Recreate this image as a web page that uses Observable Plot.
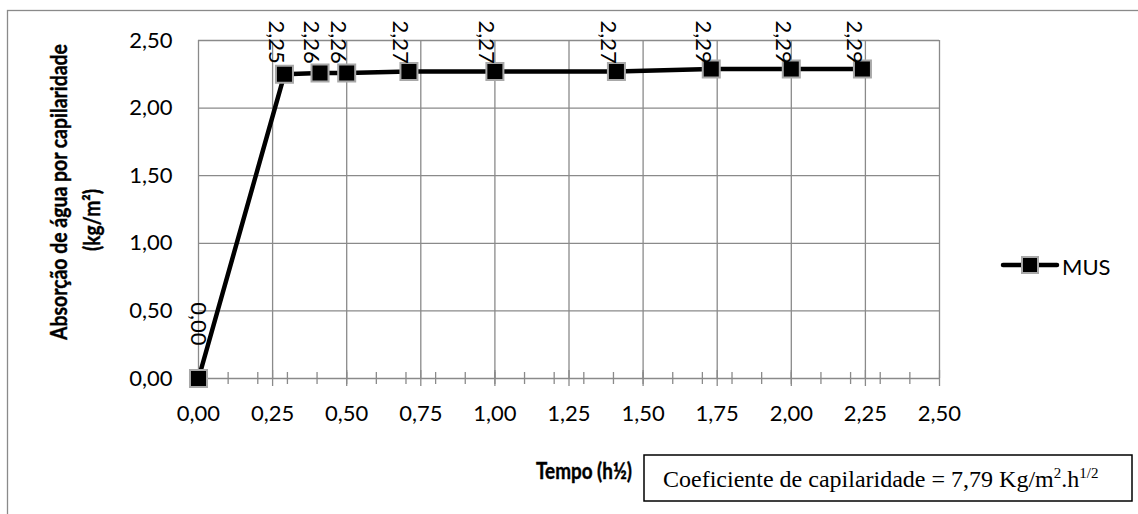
<!DOCTYPE html>
<html>
<head>
<meta charset="utf-8">
<script src="https://cdn.jsdelivr.net/npm/d3@7"></script>
<script src="https://cdn.jsdelivr.net/npm/@observablehq/plot@0.6"></script>
<style>
  body { margin: 0; background: #fff; }
  #wrap { position: relative; width: 1138px; height: 514px; overflow: hidden; background: #fff; }
  #wrap > svg { position: absolute; left: 0; top: 0; }
  #overlay { pointer-events: none; }
</style>
</head>
<body>
<div id="wrap"></div>
<script>
// Capillary water absorption of the MUS sample versus square root of time
const serie = "MUS";
const tempo = [0.00, 0.29, 0.41, 0.50, 0.71, 1.00, 1.41, 1.73, 2.00, 2.24];      // h½
const absorcao = [0.00, 2.25, 2.26, 2.26, 2.27, 2.27, 2.27, 2.29, 2.29, 2.29];   // kg/m²
const xTicks = [0, 0.25, 0.5, 0.75, 1, 1.25, 1.5, 1.75, 2, 2.25, 2.5];
const xMinor = [0.1, 0.2, 0.3, 0.4, 0.5, 0.6, 0.7, 0.8, 0.9, 1.0, 1.1, 1.2, 1.3, 1.4, 1.5,
                1.6, 1.7, 1.8, 1.9, 2.0, 2.1, 2.2, 2.3, 2.4];
const yTicks = [0, 0.5, 1, 1.5, 2, 2.5];
const tituloY = ["Absorção de água por capilaridade", "(kg/m²)"];
const tituloX = "Tempo (h½)";
const coeficiente = "7,79";

const pontos = tempo.map((t, i) => ({t, a: absorcao[i]}));
const fmt = (v) => v.toFixed(2).replace(".", ",");

const W = 1138, H = 514;
const grid = "#8a8a8a";
const sans = "Lato, 'Open Sans', sans-serif";

const chart = Plot.plot({
  width: W,
  height: H,
  marginLeft: 198,
  marginRight: 199,
  marginTop: 40,
  marginBottom: 136,
  x: {domain: [0, 2.5], axis: null},
  y: {domain: [0, 2.5], axis: null},
  style: {fontFamily: sans, fontSize: "22px", color: "#000", background: "transparent", overflow: "visible"},
  marks: [
    // gridlines
    Plot.ruleY(yTicks.filter((v) => v > 0), {y: (d) => d, x1: 0, x2: 2.5, stroke: grid, strokeWidth: 1.3}),
    Plot.ruleX(xTicks.filter((v) => v > 0), {x: (d) => d, y1: 0, y2: 2.5, stroke: grid, strokeWidth: 1.3}),
    // axis lines
    Plot.ruleX([0], {x: (d) => d, y1: 0, y2: 2.5, stroke: grid, strokeWidth: 1.3}),
    Plot.ruleY([0], {y: (d) => d, x1: 0, x2: 2.5, stroke: grid, strokeWidth: 1.3}),
    // tick marks on the horizontal axis
    Plot.ruleX(xMinor, {x: (d) => d, y1: 0, y2: 0, inset: 6, stroke: grid, strokeWidth: 1.3}),
    Plot.ruleX(xTicks, {x: (d) => d, y1: 0, y2: 0, inset: 8, stroke: grid, strokeWidth: 1.3}),
    // tick labels
    Plot.text(xTicks, {x: (d) => d, text: fmt, frameAnchor: "bottom", dy: 42, fill: "#000"}),
    Plot.text(yTicks, {y: (d) => d, text: fmt, frameAnchor: "left", dx: -26, textAnchor: "end", fill: "#000"}),
    // series
    Plot.line(pontos, {x: "t", y: "a", stroke: "#000", strokeWidth: 4.5, strokeLinejoin: "round"}),
    Plot.dot(pontos, {x: "t", y: "a", symbol: "square", r: 9.6, fill: "#000", stroke: "#a8a8a8", strokeWidth: 2}),
    // value labels, rotated
    Plot.text(pontos.filter((d) => d.a >= 1), {x: "t", text: (d) => fmt(d.a), frameAnchor: "top", dy: -20, rotate: 90, textAnchor: "start", fill: "#000"}),
    Plot.text(pontos.filter((d) => d.a < 1), {x: "t", y: "a", text: (d) => fmt(d.a), dy: -33, rotate: 90, textAnchor: "end", fill: "#000"})
  ]
});

const wrap = document.getElementById("wrap");
wrap.appendChild(chart);

// Frame, axis titles, legend and coefficient box
const ov = d3.create("svg").attr("id", "overlay").attr("width", W).attr("height", H)
  .attr("font-family", sans);

ov.append("rect").attr("x", 7.5).attr("y", 10.5).attr("width", 1300).attr("height", 700)
  .attr("fill", "none").attr("stroke", grid).attr("stroke-width", 1.3);

const bold = (sel, size) => sel.attr("font-weight", "bold").attr("font-size", size)
  .attr("fill", "#000").attr("stroke", "#000").attr("stroke-width", 0.4);

bold(ov.append("text").attr("transform", "translate(58,192) rotate(-90)")
  .attr("text-anchor", "middle").attr("dominant-baseline", "central"), 22)
  .attr("textLength", 296).attr("lengthAdjust", "spacingAndGlyphs")
  .text(tituloY[0]);
bold(ov.append("text").attr("transform", "translate(91,220) rotate(-90)")
  .attr("text-anchor", "middle").attr("dominant-baseline", "central"), 22)
  .attr("textLength", 62).attr("lengthAdjust", "spacingAndGlyphs")
  .text(tituloY[1]);

bold(ov.append("text").attr("x", 632).attr("y", 470)
  .attr("text-anchor", "end").attr("dominant-baseline", "central"), 22)
  .attr("textLength", 96).attr("lengthAdjust", "spacingAndGlyphs")
  .text(tituloX);

ov.append("rect").attr("x", 644).attr("y", 455).attr("width", 488).attr("height", 46)
  .attr("fill", "#fff").attr("stroke", "#000").attr("stroke-width", 1.5);
const cap = ov.append("text").attr("x", 663).attr("y", 487)
  .attr("font-family", "'Liberation Serif', 'Times New Roman', serif").attr("font-size", 24);
cap.append("tspan").text(`Coeficiente de capilaridade = ${coeficiente} Kg/m`);
cap.append("tspan").attr("font-size", 15).attr("dy", -9).text("2");
cap.append("tspan").attr("dy", 9).text(".h");
cap.append("tspan").attr("font-size", 15).attr("dy", -9).text("1/2");

const lg = ov.append("g");
lg.append("line").attr("x1", 1003).attr("x2", 1057).attr("y1", 265).attr("y2", 265)
  .attr("stroke", "#000").attr("stroke-width", 4.5).attr("stroke-linecap", "round");
lg.append("rect").attr("x", 1022).attr("y", 257).attr("width", 16).attr("height", 16)
  .attr("fill", "#000").attr("stroke", "#a8a8a8").attr("stroke-width", 2);
lg.append("text").attr("x", 1062).attr("y", 266).attr("dominant-baseline", "central")
  .attr("font-size", 22).text(serie);

wrap.appendChild(ov.node());
</script>
</body>
</html>
